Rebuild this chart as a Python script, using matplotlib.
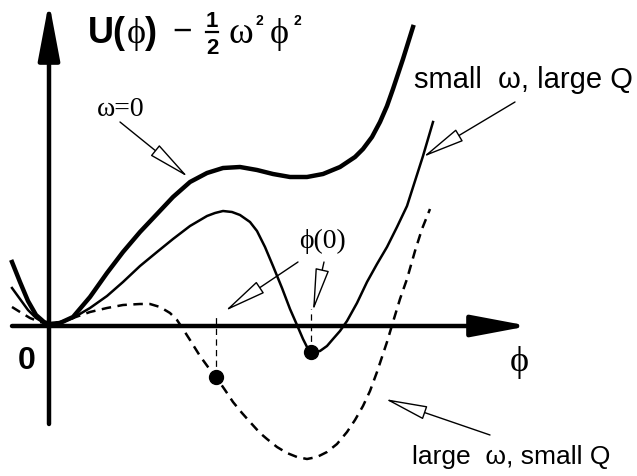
import matplotlib
matplotlib.use("Agg")
import matplotlib.pyplot as plt
from matplotlib.patches import FancyArrowPatch

# ---- data (schematic units: phi to the right, U - w^2 phi^2/2 upward) ----
thick_x = [-37, -29, -21, -13, -5, 0, 11, 24, 41, 58, 74, 91, 108, 124, 141, 158, 174,
           191, 208, 224, 241, 258, 274, 291, 306, 314, 323, 331, 338, 344, 354, 364]
thick_y = [64, 44, 25, 11, 4, 2, 3, 9, 29, 53, 74, 94, 112, 129, 144, 153, 158,
           159, 156, 152, 149, 149, 152, 159, 169, 177, 189, 204, 220, 237, 267, 299]

thin_x = [-37, -29, -21, -13, -5, 0, 11, 24, 41, 58, 74, 91, 108, 124, 141, 158, 166,
          174, 183, 191, 201, 208, 216, 224, 233, 241, 248, 254, 259, 264, 271, 278,
          284, 291, 298, 308, 318, 328, 338, 348, 358, 366, 374, 384]
thin_y = [38, 27, 16, 8, 3, 2, 3, 8, 18, 30, 44, 60, 74, 87, 100, 110, 113,
          115, 114, 111, 104, 95, 79, 60, 38, 17, 1, -13, -23, -26, -25, -20,
          -13, -5, 5, 23, 44, 62, 79, 99, 120, 145, 170, 204]

dash_x = [-37, -29, -19, -9, 0, 11, 24, 41, 58, 74, 91, 101, 111, 121, 128, 134, 141,
          151, 159, 167, 176, 184, 193, 201, 211, 218, 228, 238, 248, 258, 268, 278,
          288, 298, 306, 314, 321, 328, 334, 338, 344, 351, 358, 366, 373, 381]
dash_y = [19, 14, 8, 4, 2, 4, 8, 14, 18, 21, 22, 22, 19, 13, 6, -3, -14,
          -30, -41, -51, -64, -76, -87, -96, -107, -113, -121, -127, -131, -133, -131, -126,
          -118, -106, -94, -80, -65, -46, -28, -16, 4, 27, 47, 75, 97, 117]

# phi(0) points
dot_x = [167, 262]
dot_y = [-51, -26]
dot_marker_top = [9, 17]

SANS = "Liberation Sans"
SERIF = ["Liberation Serif", "DejaVu Serif"]
PHI = "\u03d5"
OMEGA = "\u03c9"

fig = plt.figure(figsize=(6.37, 4.77), dpi=100)
ax = fig.add_axes([0, 0, 1, 1])
ax.set_xlim(-49, 588)
ax.set_ylim(-150, 327)
ax.axis("off")

# axes with arrows
for p0, p1 in [((-37, 0), (480, 0)), ((0, -98), (0, 324))]:
    ax.add_patch(FancyArrowPatch(p0, p1,
                                 arrowstyle="-|>,head_length=1.75,head_width=0.33",
                                 mutation_scale=20, lw=3.2, color="black",
                                 shrinkA=0, shrinkB=0, zorder=3))

# curves
ax.plot(thick_x, thick_y, color="black", lw=3.2, solid_joinstyle="round", zorder=4)
ax.plot(thin_x, thin_y, color="black", lw=1.8, solid_joinstyle="round", zorder=4)
ax.plot(dash_x, dash_y, color="black", lw=1.8, dashes=(3.8, 2.6), zorder=4)

# phi(0) markers
for xv, yv, yt in zip(dot_x, dot_y, dot_marker_top):
    ax.plot([xv, xv], [yv, yt], color="black", lw=0.9, dashes=(5, 3.5), zorder=4)
ax.plot(dot_x, dot_y, "o", color="black", ms=10, zorder=5)

# annotation arrows (hollow heads)
def hollow(tail, tip):
    ax.add_patch(FancyArrowPatch(tail, tip,
                                 arrowstyle="-|>,head_length=1.35,head_width=0.22",
                                 mutation_scale=20, lw=1.0, ec="black", fc="white",
                                 shrinkA=0, shrinkB=0, zorder=6))

ax.text(72, 217, OMEGA + "=0", fontsize=20, family=SERIF, ha="center", va="center")
hollow((71, 204), (139, 149))

ax.text(274, 86, PHI + "(0)", fontsize=20, family=SERIF, ha="center", va="center")
hollow((249, 64), (176, 15))
hollow((275, 64), (264, 15))

ax.text(474, 247, "small  " + OMEGA + ", large Q", fontsize=21,
        family=SANS, ha="center", va="center")
hollow((466, 224), (374, 169))

ax.text(462, -130, "large  " + OMEGA + ", small Q", fontsize=19,
        family=SANS, ha="center", va="center")
hollow((441, -109), (336, -73))

# axis labels
ax.text(-22, -34, "0", fontsize=23, family=SANS, weight="bold", ha="center", va="center")
ax.text(470, -36, PHI, fontsize=26, family=SERIF, ha="center", va="center")

# title: U(phi) - 1/2 w^2 phi^2
base = 284
ax.text(39, base, "U(", fontsize=26, family=SANS, weight="bold", ha="left", va="baseline")
ax.text(87, base, PHI, fontsize=26, family=SERIF, ha="center", va="baseline")
ax.text(96, base, ")", fontsize=26, family=SANS, weight="bold", ha="left", va="baseline")
ax.text(133, base + 2, "\u2212", fontsize=24, family=SANS, ha="center", va="baseline")
ax.text(163, 300, "1", fontsize=16, family=SANS, weight="bold", ha="center", va="baseline")
ax.plot([157, 169], [294, 294], color="black", lw=1.6)
ax.text(163, 273, "2", fontsize=16, family=SANS, weight="bold", ha="center", va="baseline")
ax.text(192, base, OMEGA, fontsize=27, family=SERIF, ha="center", va="baseline")
ax.text(206, 302, "2", fontsize=10, family=SANS, weight="bold", ha="left", va="baseline")
ax.text(230, base, PHI, fontsize=26, family=SERIF, ha="center", va="baseline")
ax.text(244, 302, "2", fontsize=10, family=SANS, weight="bold", ha="left", va="baseline")

fig.savefig("out.png", dpi=100)
